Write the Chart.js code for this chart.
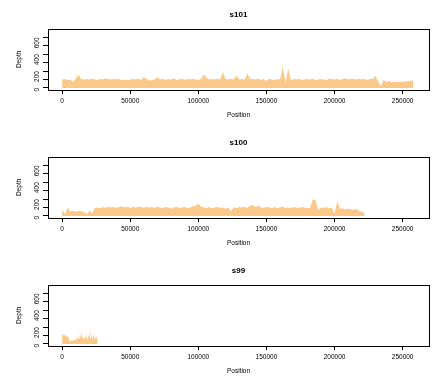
<!DOCTYPE html>
<html>
<head>
<meta charset="utf-8">
<script src="https://cdn.jsdelivr.net/npm/chart.js@4/dist/chart.umd.min.js"></script>
<style>
  html, body { margin: 0; padding: 0; background: #fff; }
  .panel { position: absolute; left: 0; width: 447px; height: 128px; }
</style>
</head>
<body>
<div class="panel" style="top:0px"><canvas id="c101"></canvas></div>
<div class="panel" style="top:128px"><canvas id="c100"></canvas></div>
<div class="panel" style="top:256px"><canvas id="c99"></canvas></div>
<script>
// depth, one value every 2000 bp (s99 every 500 bp)
var s101Step = 2000;
var s101Depth = [
  100, 105, 95, 100, 70, 110, 160, 105, 100, 105,
  100, 110, 100, 95, 105, 100, 115, 105, 100, 108,
  100, 105, 95, 100, 90, 100, 105, 100, 108, 95,
  130, 110, 85, 95, 100, 130, 100, 110, 95, 105,
  100, 115, 95, 100, 110, 95, 105, 100, 108, 100,
  95, 110, 160, 120, 100, 105, 100, 108, 100, 185,
  105, 100, 110, 100, 145, 100, 105, 100, 170, 110,
  105, 100, 110, 95, 105, 80, 110, 100, 95, 105,
  100, 260, 60, 230, 90, 105, 100, 110, 95, 100,
  105, 100, 110, 95, 100, 105, 100, 95, 110, 105,
  100, 110, 95, 105, 115, 100, 110, 105, 100, 110,
  100, 105, 95, 105, 110, 140, 80, 20, 95, 70,
  85, 65, 75, 70, 75, 70, 80, 75, 85, 90
];
var s100Step = 2000;
var s100Depth = [
  80, 20, 100, 55, 60, 50, 60, 55, 45, 20,
  60, 30, 95, 100, 90, 105, 95, 110, 100, 105,
  95, 105, 115, 100, 110, 95, 105, 100, 110, 105,
  95, 110, 100, 105, 95, 110, 100, 90, 105, 100,
  85, 100, 110, 95, 100, 105, 90, 100, 115, 120,
  145, 110, 100, 95, 105, 90, 100, 105, 95, 100,
  85, 100, 55, 100, 95, 105, 100, 110, 90, 120,
  130, 105, 120, 100, 95, 110, 100, 90, 105, 95,
  100, 110, 95, 100, 90, 105, 100, 95, 105, 100,
  95, 90, 195, 190, 70, 100, 95, 105, 90, 100,
  30, 170, 85, 90, 75, 85, 80, 70, 85, 60,
  45, 40
];
var s99Step = 500;
var s99Depth = [
  110, 120, 100, 115, 95, 110, 90, 105, 80, 95,
  60, 30, 40, 25, 45, 30, 55, 35, 60, 40,
  70, 45, 85, 50, 100, 60, 120, 75, 140, 55,
  90, 60, 110, 50, 85, 65, 120, 55, 100, 70,
  130, 60, 185, 70, 110, 50, 120, 65, 100, 55,
  90, 60, 80
];
var xTickValues = [0, 50000, 100000, 150000, 200000, 250000];
var yTickValues = [0, 100, 200, 300, 400, 500, 600];
var yLabelValues = [0, 200, 400, 600];

var FONT = 'Liberation Sans, Arial, Helvetica, sans-serif';
var FILL = 'rgb(250, 201, 138)';

var boxPlugin = {
  id: 'box',
  afterDraw: function(chart) {
    var a = chart.chartArea, ctx = chart.ctx;
    ctx.save();
    ctx.strokeStyle = '#000';
    ctx.lineWidth = 1;
    ctx.strokeRect(Math.round(a.left) + 0.5, Math.round(a.top) + 0.5,
      Math.round(a.right - a.left), Math.round(a.bottom - a.top));
    ctx.restore();
  }
};

function makePanel(id, name, step, depth) {
  var pts = depth.map(function(d, i) { return { x: i * step, y: d }; });
  new Chart(document.getElementById(id), {
    type: 'line',
    data: {
      datasets: [{
        data: pts,
        fill: 'origin',
        backgroundColor: FILL,
        borderWidth: 0,
        borderColor: FILL,
        pointRadius: 0,
        tension: 0
      }]
    },
    options: {
      responsive: false,
      animation: false,
      layout: { padding: { left: 0, right: 18, top: 0, bottom: 0 } },
      plugins: {
        legend: { display: false },
        tooltip: { enabled: false },
        title: {
          display: true,
          text: name,
          fullSize: false,
          color: '#000',
          font: { family: FONT, size: 8, weight: 'bold' },
          padding: { top: 10, bottom: 9 }
        }
      },
      scales: {
        x: {
          type: 'linear',
          min: -10360,
          max: 269360,
          afterBuildTicks: function(s) { s.ticks = xTickValues.map(function(v) { return { value: v }; }); },
          afterFit: function(s) { s.height = 38; },
          grid: { drawOnChartArea: false, tickLength: 4, color: '#000', tickWidth: 1 },
          border: { display: false },
          ticks: {
            color: '#000', padding: 3, maxRotation: 0, autoSkip: false,
            font: { family: FONT, size: 6.5 },
            callback: function(v) { return String(v); }
          },
          title: {
            display: true, text: 'Position', color: '#000',
            font: { family: FONT, size: 6.5 },
            padding: { top: 0, bottom: 9 }
          }
        },
        y: {
          min: -25,
          max: 705,
          afterBuildTicks: function(s) { s.ticks = yTickValues.map(function(v) { return { value: v }; }); },
          afterFit: function(s) { s.width = 48; },
          grid: { drawOnChartArea: false, tickLength: 5, color: '#000', tickWidth: 1 },
          border: { display: false },
          ticks: {
            color: '#000', padding: 6, minRotation: 90, maxRotation: 90, autoSkip: false,
            font: { family: FONT, size: 6.5 },
            callback: function(v) { return yLabelValues.indexOf(v) >= 0 ? String(v) : ''; }
          },
          title: {
            display: true, text: 'Depth', color: '#000',
            font: { family: FONT, size: 6.5 },
            padding: { top: 15, bottom: 0 }
          }
        }
      }
    },
    plugins: [boxPlugin]
  });
}

document.querySelectorAll('canvas').forEach(function(c) { c.width = 447; c.height = 128; });
makePanel('c101', 's101', s101Step, s101Depth);
makePanel('c100', 's100', s100Step, s100Depth);
makePanel('c99', 's99', s99Step, s99Depth);
</script>
</body>
</html>
